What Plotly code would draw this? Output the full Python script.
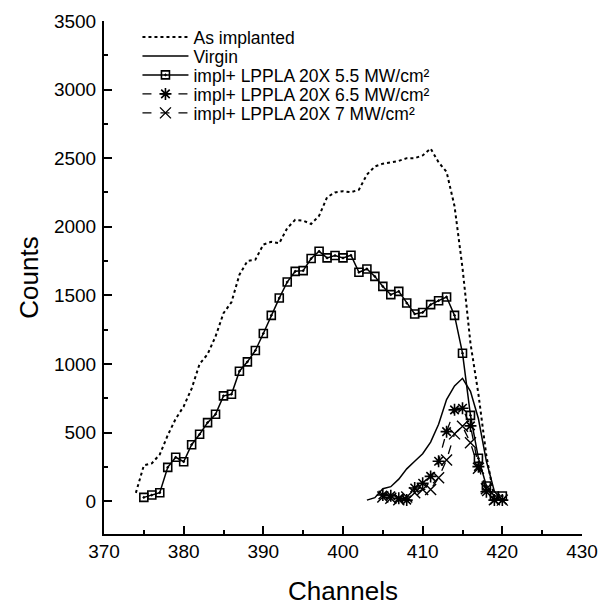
import plotly.graph_objects as go

# ---- data ----
ch_implanted = list(range(374, 421))
cnt_implanted = [60, 260, 275, 340, 480, 600, 690, 820, 1000, 1070, 1200, 1370, 1450,
                 1650, 1750, 1760, 1870, 1890, 1880, 1990, 2050, 2045, 2020, 2080, 2215,
                 2250, 2259, 2252, 2270, 2380, 2440, 2460, 2470, 2480, 2500, 2500, 2520,
                 2570, 2470, 2400, 2150, 1700, 1150, 780, 330, 20, 10]

ch_virgin = list(range(403, 421))
cnt_virgin = [7, 25, 90, 105, 160, 235, 290, 345, 430, 560, 740, 840, 895, 800, 600, 290, 70, 7]

ch_55 = list(range(375, 421))
cnt_55 = [27, 44, 61, 246, 319, 287, 411, 487, 572, 633, 767, 779, 947, 1015, 1098, 1222,
          1354, 1480, 1597, 1675, 1680, 1768, 1821, 1773, 1790, 1773, 1792, 1668, 1692,
          1638, 1565, 1505, 1529, 1444, 1364, 1375, 1432, 1461, 1488, 1354, 1078, 625,
          312, 110, 37, 37]

ch_65 = list(range(405, 421))
cnt_65 = [44, 39, 20, 7, 95, 130, 180, 290, 506, 665, 677, 548, 251, 68, 7, 7]

ch_7 = list(range(405, 421))
cnt_7 = [30, 20, 10, 30, 60, 85, 85, 170, 300, 490, 545, 425, 240, 90, 10, 7]

names = ["As implanted", "Virgin", "impl+ LPPLA 20X 5.5 MW/cm²",
         "impl+ LPPLA 20X 6.5 MW/cm²", "impl+ LPPLA 20X 7 MW/cm²"]

x_ticks = [370, 380, 390, 400, 410, 420, 430]
y_ticks = [0, 500, 1000, 1500, 2000, 2500, 3000, 3500]

FONT = "Liberation Sans, Arial, sans-serif"
legend_ids = ["legend", "legend2", "legend3", "legend4", "legend5"]

fig = go.Figure()
fig.add_trace(go.Scatter(x=ch_implanted, y=cnt_implanted, mode="lines", name=names[0],
                         legend=legend_ids[0],
                         line=dict(color="black", width=2, dash="dot")))
fig.add_trace(go.Scatter(x=ch_virgin, y=cnt_virgin, mode="lines", name=names[1],
                         legend=legend_ids[1],
                         line=dict(color="black", width=1.5)))
fig.add_trace(go.Scatter(x=ch_55, y=cnt_55, mode="lines+markers", name=names[2],
                         legend=legend_ids[2],
                         line=dict(color="black", width=1.5),
                         marker=dict(symbol="square-open-dot", size=8, color="black",
                                     line=dict(width=1.6, color="black"))))
fig.add_trace(go.Scatter(x=ch_65, y=cnt_65, mode="lines+markers", name=names[3],
                         legend=legend_ids[3],
                         line=dict(color="black", width=1.3, dash="dash"),
                         marker=dict(symbol="asterisk-open", size=10, color="black",
                                     line=dict(width=1.6, color="black"))))
fig.add_trace(go.Scatter(x=ch_7, y=cnt_7, mode="lines+markers", name=names[4],
                         legend=legend_ids[4],
                         line=dict(color="black", width=1.3, dash="dash"),
                         marker=dict(symbol="x-thin-open", size=11, color="black",
                                     line=dict(width=1.4, color="black"))))

# page has an 8px body margin; figure is sized to fit the 608x606 window
PLOT_TOP, PLOT_H = 13, 513
row_px = [29, 48, 67, 86, 105]
legends = {}
for lid, py in zip(legend_ids, row_px):
    legends[lid] = dict(x=0.07, y=1 - (py - PLOT_TOP) / PLOT_H, xanchor="left", yanchor="middle",
                        font=dict(size=17.5, family=FONT), bgcolor="rgba(0,0,0,0)",
                        itemwidth=46, borderwidth=0)

fig.update_layout(
    width=600, height=598,
    margin=dict(l=96, r=26, t=13, b=72, autoexpand=False),
    paper_bgcolor="white", plot_bgcolor="white",
    font=dict(family=FONT, color="black"),
    showlegend=True,
    **legends,
    xaxis=dict(range=[370, 430], tickvals=x_ticks, showgrid=False, zeroline=False,
               showline=True, linecolor="black", linewidth=2, automargin=False,
               ticks="inside", ticklen=8, tickwidth=1.5, tickcolor="black",
               minor=dict(dtick=5, ticks="inside", ticklen=4, tickwidth=1.5, tickcolor="black"),
               ticklabelstandoff=-1,
               tickfont=dict(size=19), title=dict(text="Channels", font=dict(size=26), standoff=26)),
    yaxis=dict(range=[-240, 3500], tickvals=y_ticks, showgrid=False, zeroline=False,
               showline=True, linecolor="black", linewidth=2, automargin=False,
               ticks="inside", ticklen=8, tickwidth=1.5, tickcolor="black",
               minor=dict(dtick=250, tick0=0, ticks="inside", ticklen=4, tickwidth=1.5, tickcolor="black"),
               ticklabelstandoff=2,
               tickfont=dict(size=19), title=dict(text="Counts", font=dict(size=26), standoff=8)),
)

fig.write_html("out.html")
